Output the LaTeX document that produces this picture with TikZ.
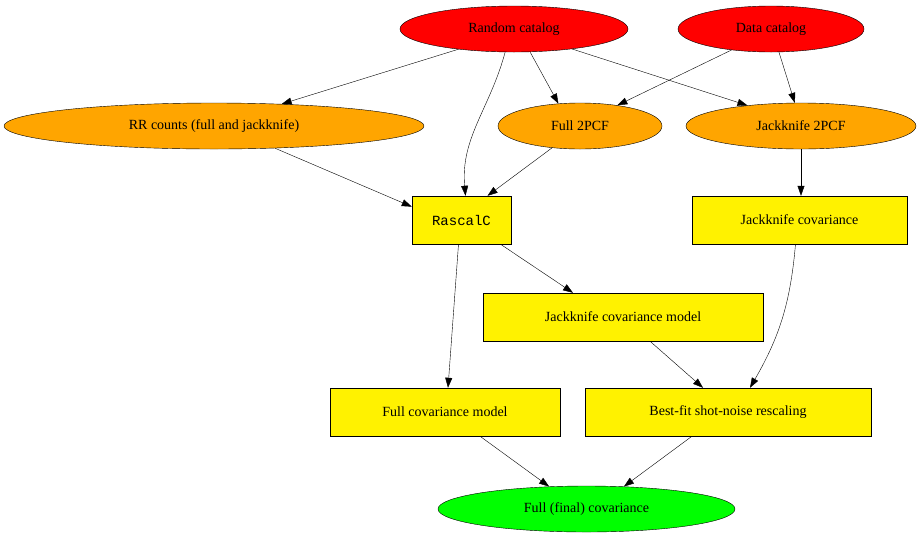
\documentclass[tikz,border=0pt]{standalone}
\usepackage{fontspec}
\setmainfont{Liberation Serif}
\setmonofont{Liberation Mono}
\usetikzlibrary{shapes.geometric,arrows.meta,calc}
\definecolor{gvorange}{RGB}{255,165,0}
\definecolor{gvgreen}{RGB}{0,255,0}
\begin{document}
\begin{tikzpicture}[x=1pt,y=-1pt,
  base/.style={draw=black,inner sep=0pt,font=\fontsize{14pt}{16pt}\selectfont},
  ell/.style={base,ellipse,minimum height=46pt},
  box/.style={base,rectangle,minimum height=48pt},
  arr/.style={-{Triangle[length=10pt,width=7pt]},black}]
\useasboundingbox (0,0) rectangle (921,539);
\node[ell,fill=red,minimum width=228pt] (rand) at (514,29) {Random catalog};
\node[ell,fill=red,minimum width=186pt] (data) at (771,29) {Data catalog};
\node[ell,fill=gvorange,minimum width=420pt] (rr) at (214,126) {RR counts (full and jackknife)};
\node[ell,fill=gvorange,minimum width=164pt] (f2) at (580,126) {Full 2PCF};
\node[ell,fill=gvorange,minimum width=230pt] (j2) at (801,126) {Jackknife 2PCF};
\node[box,fill=yellow,minimum width=99pt] (rc) at (461.5,220) {\texttt{RascalC}};
\node[box,fill=yellow,minimum width=215pt] (jc) at (799.5,220) {Jackknife covariance};
\node[box,fill=yellow,minimum width=280pt] (jm) at (623,317) {Jackknife covariance model};
\node[box,fill=yellow,minimum width=230pt] (fm) at (445,412) {Full covariance model};
\node[box,fill=yellow,minimum width=286pt] (bf) at (728,412) {Best-fit shot-noise rescaling};
\node[ell,fill=gvgreen,minimum width=297pt] (fin) at (586.5,509) {Full (final) covariance};
\draw[arr] (rand.200) -- (rr.18);
\draw[arr] (rand.305) -- (f2.134);
\draw[arr] (rand.341) -- (j2.159);
\draw[arr] (rand.249) to[out=255,in=95] ($(rc.north)+(4,0)$);
\draw[arr] (data.208) -- (f2.29);
\draw[arr] (data.289) -- (j2.105);
\draw[arr] (rr.340) -- (rc.165);
\draw[arr] (f2.218) -- ($(rc.north)+(26,0)$);
\draw[arr] (j2.south) -- (j2.south |- jc.north);
\draw[arr] ($(rc.south)+(39,0)$) -- ($(jm.north)+(-50,0)$);
\draw[arr] ($(rc.south)+(-3,0)$) -- ($(fm.north)+(3,0)$);
\draw[arr] ($(jm.south)+(27,0)$) -- ($(bf.north)+(-25,0)$);
\draw[arr] ($(jc.south)+(-4,0)$) to[out=-95,in=60] ($(bf.north)+(22,0)$);
\draw[arr] ($(fm.south)+(35,0)$) -- (fin.149);
\draw[arr] ($(bf.south)+(-36,0)$) -- (fin.31);
\end{tikzpicture}
\end{document}
